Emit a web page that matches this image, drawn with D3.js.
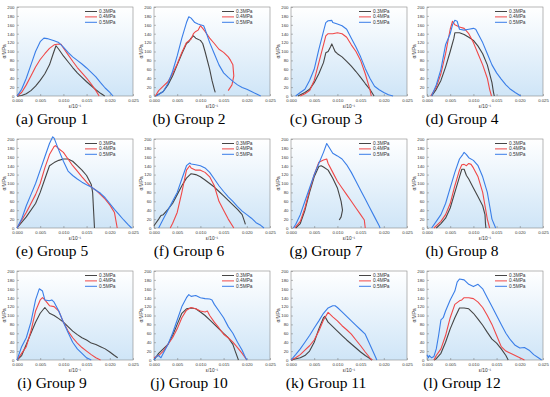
<!DOCTYPE html>
<html>
<head>
<meta charset="utf-8">
<script src="https://cdn.jsdelivr.net/npm/d3@7"></script>
<style>
  body { margin: 0; background: #fff; }
  svg { display: block; }
</style>
</head>
<body>
<svg id="chart" width="550" height="397"></svg>
<script>
"use strict";

const pressures = ['0.3MPa', '0.4MPa', '0.5MPa']
const line_colors = ['#454545', '#f04848', '#3a7ee8']
const captions = ['(a) Group 1', '(b) Group 2', '(c) Group 3', '(d) Group 4',
   '(e) Group 5', '(f) Group 6', '(g) Group 7', '(h) Group 8',
   '(i) Group 9', '(j) Group 10', '(k) Group 11', '(l) Group 12']
const x_ticks = [0, 0.005, 0.010, 0.015, 0.020, 0.025]
const y_ticks = [0, 20, 40, 60, 80, 100, 120, 140, 160, 180, 200]

// each group: [0.3MPa, 0.4MPa, 0.5MPa], points are [strain, stress]
const group1 = [
   [[0,0],[0.001,1],[0.002,5],[0.003,12],[0.004,22],[0.005,35],[0.006,50],[0.007,70],[0.0078,95],[0.0084,113],[0.009,105],[0.010,90],[0.011,77],[0.012,64],[0.013,52],[0.014,42],[0.015,32],[0.016,23],[0.017,14],[0.018,6],[0.0189,0]],
   [[0,0],[0.001,8],[0.002,25],[0.003,45],[0.004,65],[0.005,82],[0.006,95],[0.007,107],[0.008,115],[0.009,117],[0.0095,116],[0.010,108],[0.011,93],[0.012,78],[0.013,64],[0.014,52],[0.015,40],[0.016,27],[0.017,12],[0.0177,0]],
   [[0,0],[0.001,15],[0.002,40],[0.003,70],[0.004,100],[0.005,122],[0.0058,130],[0.0065,129],[0.008,124],[0.009,120],[0.010,110],[0.011,98],[0.012,88],[0.013,80],[0.014,72],[0.015,63],[0.016,53],[0.017,43],[0.018,30],[0.019,18],[0.020,8],[0.0207,0]]
]
const group2 = [
   [[0.0003,0],[0.001,4],[0.002,10],[0.003,25],[0.004,45],[0.005,70],[0.006,95],[0.007,118],[0.0075,122],[0.008,130],[0.0085,135],[0.009,130],[0.010,125],[0.0105,118],[0.011,100],[0.012,60],[0.0125,35],[0.013,15],[0.0132,8]],
   [[0.0003,0],[0.001,12],[0.002,22],[0.003,32],[0.004,50],[0.005,72],[0.006,98],[0.007,120],[0.008,128],[0.0085,140],[0.009,145],[0.0095,148],[0.010,158],[0.0105,152],[0.011,145],[0.012,130],[0.013,118],[0.014,105],[0.015,98],[0.016,88],[0.0165,80],[0.017,70],[0.0172,45],[0.0168,25],[0.016,12]],
   [[0.0005,0],[0.002,10],[0.003,28],[0.004,55],[0.005,90],[0.006,130],[0.007,165],[0.0075,178],[0.008,175],[0.0088,165],[0.0095,162],[0.010,160],[0.0107,158],[0.011,150],[0.012,120],[0.013,95],[0.014,70],[0.015,52],[0.016,42],[0.017,33],[0.018,25],[0.019,19],[0.020,15],[0.021,10],[0.022,5],[0.023,0]]
]
const group3 = [
   [[0.0015,0],[0.003,8],[0.004,15],[0.005,30],[0.006,50],[0.007,75],[0.0075,97],[0.008,100],[0.0085,110],[0.0088,117],[0.009,112],[0.0095,100],[0.010,95],[0.011,88],[0.012,78],[0.013,67],[0.014,55],[0.015,42],[0.016,28],[0.017,15],[0.0179,0]],
   [[0.002,0],[0.003,5],[0.004,12],[0.005,35],[0.006,75],[0.007,115],[0.0075,135],[0.008,140],[0.009,140],[0.010,142],[0.011,140],[0.012,132],[0.013,115],[0.014,100],[0.015,80],[0.016,50],[0.017,15],[0.0173,0]],
   [[0.001,0],[0.002,8],[0.003,15],[0.004,35],[0.005,60],[0.006,105],[0.007,145],[0.0075,165],[0.008,169],[0.0088,170],[0.009,165],[0.010,162],[0.011,158],[0.012,150],[0.013,130],[0.014,110],[0.015,88],[0.016,62],[0.017,40],[0.018,22],[0.019,14],[0.020,8],[0.021,3],[0.022,0]]
]
const group4 = [
   [[0.001,0],[0.002,15],[0.003,35],[0.004,65],[0.005,100],[0.0058,130],[0.006,142],[0.007,142],[0.008,138],[0.009,132],[0.010,125],[0.011,112],[0.012,95],[0.013,70],[0.014,30],[0.0143,10],[0.0145,0]],
   [[0.0008,0],[0.002,20],[0.003,50],[0.004,95],[0.005,150],[0.0055,168],[0.006,160],[0.007,155],[0.008,152],[0.009,140],[0.010,120],[0.011,95],[0.012,70],[0.013,40],[0.0135,15],[0.0139,0]],
   [[0.001,0],[0.002,25],[0.003,60],[0.004,115],[0.005,140],[0.0055,160],[0.006,170],[0.0065,168],[0.007,150],[0.008,148],[0.009,150],[0.010,152],[0.0105,150],[0.011,140],[0.012,120],[0.013,95],[0.014,70],[0.015,52],[0.016,38],[0.017,25],[0.018,15],[0.019,8],[0.0202,0]]
]
const group5 = [
   [[0,0],[0.002,25],[0.004,55],[0.005,80],[0.006,110],[0.007,140],[0.008,147],[0.009,152],[0.010,155],[0.011,155],[0.012,150],[0.013,140],[0.014,130],[0.015,118],[0.016,98],[0.0163,80],[0.0165,40],[0.0167,0]],
   [[0,0],[0.002,35],[0.004,75],[0.005,100],[0.006,135],[0.007,165],[0.008,183],[0.0083,185],[0.009,178],[0.010,170],[0.011,155],[0.012,140],[0.013,128],[0.014,115],[0.015,103],[0.016,92],[0.017,85],[0.018,75],[0.019,65],[0.020,52],[0.021,35],[0.0216,0]],
   [[0,0],[0.001,20],[0.002,50],[0.003,75],[0.004,100],[0.005,130],[0.006,160],[0.007,190],[0.0077,205],[0.008,202],[0.009,175],[0.010,150],[0.011,128],[0.012,118],[0.013,110],[0.014,103],[0.015,97],[0.016,92],[0.017,85],[0.018,78],[0.019,68],[0.020,55],[0.021,42],[0.022,30],[0.023,18],[0.024,7],[0.0247,0]]
]
const group6 = [
   [[0,5],[0.001,20],[0.0015,28],[0.002,30],[0.003,42],[0.004,55],[0.005,75],[0.006,95],[0.007,112],[0.008,122],[0.009,120],[0.010,115],[0.011,108],[0.012,100],[0.013,92],[0.014,82],[0.015,72],[0.016,62],[0.017,52],[0.018,42],[0.019,30],[0.0195,15],[0.0197,8]],
   [[0.0035,0],[0.004,10],[0.005,35],[0.006,80],[0.007,130],[0.0077,140],[0.008,135],[0.009,130],[0.010,130],[0.011,125],[0.012,115],[0.013,95],[0.014,60],[0.015,40],[0.016,20],[0.0172,0]],
   [[0.001,0],[0.002,20],[0.003,40],[0.004,60],[0.005,80],[0.006,110],[0.007,140],[0.0077,146],[0.008,144],[0.009,142],[0.010,140],[0.011,135],[0.012,125],[0.013,110],[0.014,95],[0.015,82],[0.016,70],[0.017,60],[0.018,48],[0.019,38],[0.020,30],[0.021,22],[0.022,12],[0.023,6],[0.0237,0]]
]
const group7 = [
   [[0.001,0],[0.002,10],[0.003,40],[0.004,80],[0.005,115],[0.006,138],[0.0065,140],[0.007,137],[0.008,130],[0.009,112],[0.010,90],[0.0108,60],[0.0111,40],[0.0108,25],[0.0104,18]],
   [[0.0008,0],[0.002,15],[0.003,45],[0.004,85],[0.005,120],[0.006,148],[0.007,153],[0.0077,155],[0.008,145],[0.009,125],[0.010,105],[0.011,90],[0.012,75],[0.013,60],[0.014,45],[0.015,30],[0.0158,18],[0.016,0]],
   [[0.0005,0],[0.001,8],[0.002,30],[0.003,60],[0.004,90],[0.005,120],[0.006,145],[0.007,170],[0.0077,190],[0.008,185],[0.009,168],[0.010,162],[0.011,155],[0.012,142],[0.013,125],[0.014,105],[0.015,85],[0.016,65],[0.017,45],[0.018,25],[0.019,5],[0.0192,0]]
]
const group8 = [
   [[0.002,0],[0.003,10],[0.004,22],[0.005,45],[0.006,80],[0.007,115],[0.0075,132],[0.008,132],[0.0085,118],[0.009,110],[0.010,90],[0.011,70],[0.012,50],[0.0125,30],[0.0126,10],[0.0127,0]],
   [[0.0015,0],[0.003,15],[0.004,30],[0.005,55],[0.006,95],[0.007,130],[0.0075,142],[0.008,143],[0.0085,140],[0.009,145],[0.0095,143],[0.010,135],[0.011,115],[0.012,80],[0.0125,50],[0.013,20],[0.0135,0]],
   [[0.001,0],[0.002,15],[0.003,30],[0.004,55],[0.005,90],[0.006,125],[0.007,155],[0.0077,165],[0.008,170],[0.0085,165],[0.009,158],[0.010,152],[0.011,140],[0.012,115],[0.013,80],[0.0135,50],[0.014,20],[0.0148,0]]
]
const group9 = [
   [[0,0],[0.001,10],[0.002,35],[0.003,60],[0.004,85],[0.005,105],[0.006,118],[0.007,105],[0.008,100],[0.009,93],[0.010,85],[0.011,75],[0.012,65],[0.013,57],[0.014,50],[0.015,45],[0.016,38],[0.017,35],[0.018,30],[0.019,25],[0.020,18],[0.021,10],[0.0217,5]],
   [[0,0],[0.001,15],[0.002,30],[0.003,65],[0.004,110],[0.005,135],[0.0055,140],[0.006,135],[0.007,122],[0.008,120],[0.009,110],[0.010,85],[0.011,65],[0.012,50],[0.013,38],[0.014,28],[0.015,20],[0.016,12],[0.017,5],[0.018,0]],
   [[0,0],[0.001,30],[0.0015,40],[0.002,50],[0.003,85],[0.004,135],[0.0048,160],[0.0055,155],[0.006,135],[0.007,133],[0.0075,135],[0.008,130],[0.009,110],[0.010,85],[0.011,62],[0.012,40],[0.013,25],[0.014,15],[0.015,5],[0.016,0]]
]
const group10 = [
   [[0,0],[0.001,15],[0.002,25],[0.003,35],[0.004,55],[0.005,80],[0.006,105],[0.007,115],[0.008,117],[0.009,115],[0.010,108],[0.011,100],[0.012,90],[0.013,80],[0.014,70],[0.015,60],[0.016,50],[0.017,35],[0.0175,20],[0.0182,0]],
   [[0,5],[0.001,10],[0.002,20],[0.003,35],[0.004,50],[0.005,70],[0.006,95],[0.007,112],[0.008,118],[0.009,115],[0.010,110],[0.011,108],[0.0115,110],[0.012,100],[0.013,85],[0.014,72],[0.015,58],[0.016,50],[0.017,40],[0.018,28],[0.019,15],[0.020,0]],
   [[0,0],[0.0005,8],[0.001,10],[0.0015,5],[0.002,15],[0.003,35],[0.004,60],[0.005,90],[0.006,120],[0.007,140],[0.0075,147],[0.008,143],[0.009,145],[0.010,140],[0.011,138],[0.012,137],[0.0125,135],[0.013,125],[0.014,110],[0.015,95],[0.016,75],[0.017,60],[0.018,40],[0.019,22],[0.0195,10],[0.020,0]]
]
const group11 = [
   [[0,0],[0.002,5],[0.003,10],[0.004,20],[0.005,40],[0.006,70],[0.007,95],[0.0073,98],[0.008,85],[0.009,75],[0.010,65],[0.011,55],[0.012,45],[0.013,36],[0.014,27],[0.015,18],[0.016,10],[0.017,3],[0.0175,0]],
   [[0,0],[0.001,5],[0.002,12],[0.003,22],[0.004,32],[0.005,45],[0.006,65],[0.007,90],[0.008,107],[0.009,97],[0.010,88],[0.011,77],[0.012,68],[0.013,58],[0.014,45],[0.015,32],[0.016,18],[0.017,5],[0.0175,0]],
   [[0,0],[0.001,12],[0.002,25],[0.003,40],[0.004,55],[0.005,72],[0.006,88],[0.007,105],[0.008,117],[0.009,122],[0.0095,122],[0.010,118],[0.011,108],[0.012,98],[0.013,88],[0.014,78],[0.015,68],[0.016,58],[0.017,35],[0.018,12],[0.0185,0]]
]
const group12 = [
   [[0.0015,0],[0.002,3],[0.003,15],[0.004,40],[0.005,70],[0.006,95],[0.007,117],[0.008,117],[0.009,115],[0.010,105],[0.011,92],[0.012,78],[0.013,62],[0.014,47],[0.015,38],[0.016,25],[0.017,10],[0.0175,0]],
   [[0.0015,0],[0.002,10],[0.003,25],[0.004,55],[0.005,95],[0.006,125],[0.007,133],[0.0075,135],[0.008,140],[0.009,140],[0.010,138],[0.011,130],[0.012,118],[0.013,100],[0.014,80],[0.015,55],[0.016,30],[0.017,20],[0.018,15],[0.019,10],[0.020,5],[0.021,0]],
   [[0,12],[0.0003,5],[0.0005,10],[0.001,5],[0.0015,8],[0.002,25],[0.0025,55],[0.003,90],[0.0035,95],[0.004,110],[0.005,135],[0.006,155],[0.0065,175],[0.007,182],[0.008,180],[0.009,170],[0.010,165],[0.011,170],[0.012,160],[0.013,140],[0.014,120],[0.015,100],[0.016,80],[0.017,60],[0.018,45],[0.019,33],[0.020,27],[0.021,28],[0.022,22],[0.023,12],[0.024,5],[0.0247,0]]
]
const groups = [group1, group2, group3, group4, group5, group6,
   group7, group8, group9, group10, group11, group12]

const col_left = [17, 154, 291, 427]
const row_top = [7, 139, 271]
const pw = 116
const ph = 89

const svg = d3.select('#chart')

const grad = svg.append('defs').append('linearGradient')
   .attr('id', 'bg').attr('x1', 0).attr('y1', 0).attr('x2', 0).attr('y2', 1)
grad.append('stop').attr('offset', '0%').attr('stop-color', '#ffffff')
grad.append('stop').attr('offset', '100%').attr('stop-color', '#cfe5f7')

const x = d3.scaleLinear().domain([0, 0.025]).range([0, pw])
const y = d3.scaleLinear().domain([0, 200]).range([ph, 0])
const line = d3.line().x(d => x(d[0])).y(d => y(d[1]))

groups.forEach((series, i) => {
   const cx = col_left[i % 4]
   const cy = row_top[Math.floor(i / 4)]
   const g = svg.append('g').attr('transform', `translate(${cx},${cy})`)

   g.append('rect')
      .attr('width', pw).attr('height', ph)
      .attr('fill', 'url(#bg)')

   const xa = g.append('g')
      .attr('transform', `translate(0,${ph})`)
      .call(d3.axisBottom(x).tickValues(x_ticks).tickFormat(d3.format('.3f'))
         .tickSize(-2).tickPadding(2.5))
   const ya = g.append('g')
      .call(d3.axisLeft(y).tickValues(y_ticks).tickSize(-2).tickPadding(2.5))
   ;[xa, ya].forEach(a => {
      a.select('.domain').remove()
      a.selectAll('line').attr('stroke', '#777').attr('stroke-width', 0.5)
      a.selectAll('text').attr('font-size', 4.3).attr('fill', '#333')
         .attr('font-family', 'Liberation Sans, Arial, sans-serif')
   })

   g.append('rect')
      .attr('width', pw).attr('height', ph)
      .attr('fill', 'none').attr('stroke', '#888').attr('stroke-width', 0.6)

   series.forEach((pts, k) => {
      g.append('path')
         .datum(pts)
         .attr('fill', 'none')
         .attr('stroke', line_colors[k])
         .attr('stroke-width', 1.1)
         .attr('stroke-linejoin', 'round')
         .attr('d', line)
   })

   // legend
   const lg = g.append('g').attr('transform', `translate(${pw - 48},4)`)
   pressures.forEach((p, k) => {
      lg.append('line')
         .attr('x1', 0).attr('x2', 12)
         .attr('y1', k * 5.4 + 0.5).attr('y2', k * 5.4 + 0.5)
         .attr('stroke', line_colors[k]).attr('stroke-width', 1)
      lg.append('text')
         .attr('x', 14).attr('y', k * 5.4 + 2)
         .attr('font-size', 4.8).attr('fill', '#333')
         .attr('font-family', 'Liberation Sans, Arial, sans-serif')
         .text(p)
   })

   g.append('text')
      .attr('x', pw / 2).attr('y', ph + 12)
      .attr('text-anchor', 'middle')
      .attr('font-size', 4.8).attr('fill', '#333')
      .attr('font-family', 'Liberation Sans, Arial, sans-serif')
      .text('ε/10⁻¹')

   g.append('text')
      .attr('transform', `translate(-11,${ph / 2}) rotate(-90)`)
      .attr('text-anchor', 'middle')
      .attr('font-size', 4.8).attr('fill', '#333')
      .attr('font-family', 'Liberation Sans, Arial, sans-serif')
      .text('σ/MPa')

   g.append('text')
      .attr('x', pw / 2 - 23).attr('y', ph + 28)
      .attr('text-anchor', 'middle')
      .attr('font-size', 15.5).attr('fill', '#000')
      .attr('font-family', 'Liberation Serif, Times New Roman, serif')
      .text(captions[i])
})
</script>
</body>
</html>
